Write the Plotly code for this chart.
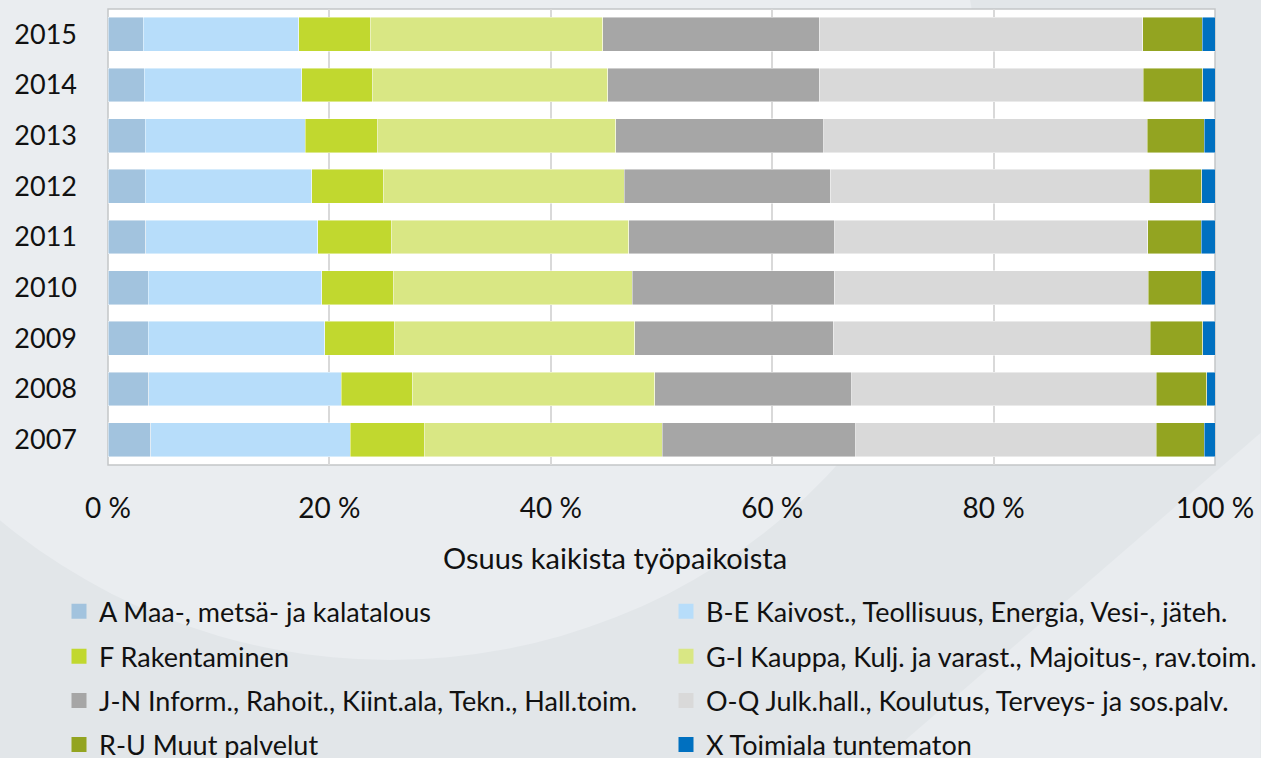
import plotly.graph_objects as go

years = ["2007", "2008", "2009", "2010", "2011", "2012", "2013", "2014", "2015"]

series_names = [
    "A Maa-, metsä- ja kalatalous",
    "B-E Kaivost., Teollisuus, Energia, Vesi-, jäteh.",
    "F Rakentaminen",
    "G-I Kauppa, Kulj. ja varast., Majoitus-, rav.toim.",
    "J-N Inform., Rahoit., Kiint.ala, Tekn., Hall.toim.",
    "O-Q Julk.hall., Koulutus, Terveys- ja sos.palv.",
    "R-U Muut palvelut",
    "X Toimiala tuntematon",
]

a_maa = [3.87, 3.70, 3.63, 3.63, 3.42, 3.35, 3.35, 3.28, 3.18]
be_teol = [18.01, 17.35, 15.93, 15.66, 15.52, 15.04, 14.45, 14.21, 14.03]
f_rak = [6.67, 6.50, 6.36, 6.46, 6.64, 6.53, 6.50, 6.36, 6.47]
gi_kauppa = [21.53, 21.85, 21.67, 21.60, 21.48, 21.71, 21.58, 21.31, 21.03]
jn_inform = [17.46, 17.80, 17.93, 18.25, 18.58, 18.63, 18.77, 19.07, 19.52]
oq_julk = [27.13, 27.47, 28.61, 28.38, 28.30, 28.80, 29.22, 29.29, 29.26]
ru_muut = [4.34, 4.57, 4.77, 4.76, 4.80, 4.76, 5.18, 5.38, 5.37]
x_tunt = [0.99, 0.76, 1.10, 1.26, 1.26, 1.18, 0.95, 1.10, 1.14]

values = [a_maa, be_teol, f_rak, gi_kauppa, jn_inform, oq_julk, ru_muut, x_tunt]
colors = ["#a2c3de", "#b7ddfa", "#c1d82f", "#d9e784", "#a6a6a6", "#d9d9d9", "#93a421", "#0070c0"]

x_ticks = [0, 20, 40, 60, 80, 100]
x_ticktext = ["0 %", "20 %", "40 %", "60 %", "80 %", "100 %"]
x_title = "Osuus kaikista työpaikoista"

FONT = "Lato, 'Open Sans', sans-serif"
W, H = 1261, 758
L, R, T, B = 108, 45.5, 9, 293
PW = W - L - R
PH = H - T - B


def px(xp):
    return (xp - L) / PW


def py(yp):
    return (H - B - yp) / PH


def cx(xp):
    return xp / W


def cy(yp):
    return 1 - yp / H


legend_keys = ["legend"] + [f"legend{i}" for i in range(2, 9)]

fig = go.Figure()
for name, vals, col in zip(series_names, values, colors):
    fig.add_trace(go.Bar(
        y=years, x=vals, name=name, orientation="h",
        marker=dict(color=col, line=dict(color="rgba(255,255,255,0.55)", width=0.8)),
        showlegend=False, hoverinfo="x+name",
    ))

# legend entries with larger square swatches
for name, col, lg in zip(series_names, colors, legend_keys):
    fig.add_trace(go.Scatter(
        x=[None], y=[None], mode="markers", name=name,
        marker=dict(symbol="square", size=15, color=col, line=dict(width=0)),
        legend=lg, showlegend=True, hoverinfo="skip",
    ))

shapes = [
    # subtle background decoration
    dict(type="circle", xref="paper", yref="paper", layer="below",
         x0=px(-200), x1=px(980), y0=py(660), y1=py(-460),
         fillcolor="#eaedf0", line=dict(width=0)),
    dict(type="path", xref="paper", yref="paper", layer="below",
         path=f"M {px(885)} {py(758)} L {px(1261)} {py(433)} L {px(1261)} {py(758)} Z",
         fillcolor="#e9ecef", line=dict(width=0)),
    # plot area background (white panel)
    dict(type="rect", xref="paper", yref="paper", layer="below",
         x0=0, x1=1, y0=0, y1=1, fillcolor="white",
         line=dict(color="#c4c6c8", width=1.5)),
]

legend_rows_y = [611.7, 656.7, 701.0, 745.0]
legend_cols_x = [59, 666]
layout_legends = {}
for i, key in enumerate(legend_keys):
    row, col = divmod(i, 2)
    layout_legends[key] = dict(
        orientation="h", xref="container", yref="container",
        xanchor="left", yanchor="middle",
        x=cx(legend_cols_x[col]), y=cy(legend_rows_y[row]),
        bgcolor="rgba(0,0,0,0)", borderwidth=0,
        font=dict(family=FONT, size=27, color="#111111"),
    )

fig.update_layout(
    width=W, height=H,
    margin=dict(l=L, r=R, t=T, b=B, pad=0, autoexpand=False),
    barmode="stack", bargap=0.33,
    paper_bgcolor="#e2e6e9",
    plot_bgcolor="rgba(0,0,0,0)",
    font=dict(family=FONT, color="#111111"),
    shapes=shapes,
    showlegend=True,
    xaxis=dict(range=[0, 100], tickvals=x_ticks, ticktext=x_ticktext,
               showgrid=True, gridcolor="#d9d9d9", gridwidth=1.5,
               zeroline=False, showline=False, ticks="",
               ticklabelstandoff=24, automargin=False,
               tickfont=dict(family=FONT, size=28, color="#111111"),
               fixedrange=True),
    yaxis=dict(type="category", categoryorder="array", categoryarray=years,
               range=[-0.5, 8.5], showgrid=False, zeroline=False,
               showline=False, ticks="", ticklabelstandoff=30,
               automargin=False,
               tickfont=dict(family=FONT, size=27, color="#111111"),
               fixedrange=True),
    annotations=[dict(text=x_title, xref="paper", yref="paper",
                      x=px(615), y=py(557), xanchor="center", yanchor="middle",
                      showarrow=False,
                      font=dict(family=FONT, size=29, color="#111111"))],
    **layout_legends,
)

fig.write_html("out.html", config={"displayModeBar": False},
               post_script="document.body.style.margin='0';")
